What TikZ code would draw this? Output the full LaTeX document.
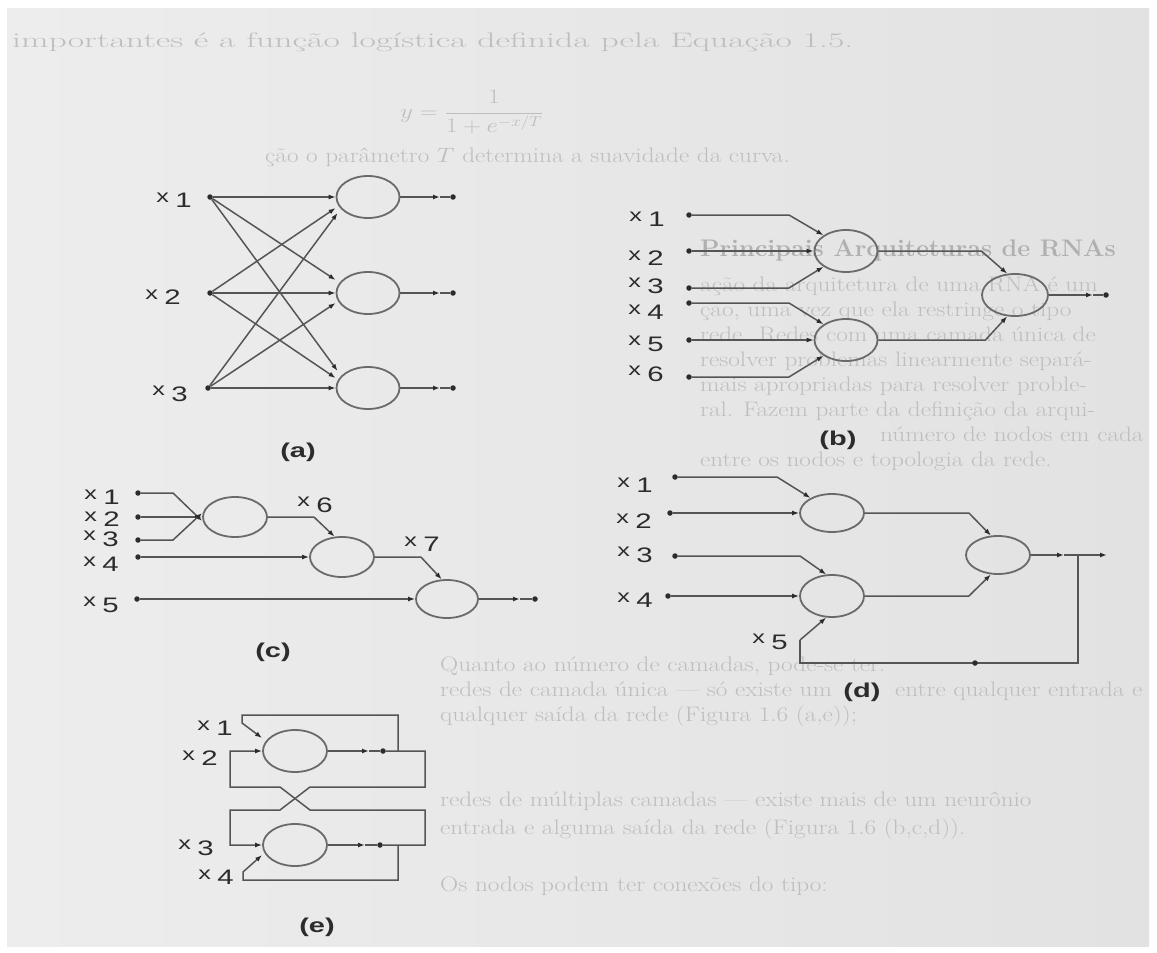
\documentclass[tikz,border=0pt]{standalone}
\usepackage{fontspec}
\usetikzlibrary{arrows.meta,shapes.geometric}
\newfontfamily\lblfont{Liberation Sans}
\definecolor{paperL}{HTML}{EDEDED}
\definecolor{paperR}{HTML}{E2E2E2}
\definecolor{ink}{HTML}{2C2C2C}
\definecolor{wirec}{HTML}{555555}
\definecolor{cellc}{HTML}{6A6A6A}
\definecolor{ghost}{HTML}{BEBEBE}
\definecolor{ghostdk}{HTML}{B0B0B0}
% input label: small raised x followed by the index digit, widened like the printed figure
\newcommand{\inlab}[1]{\scalebox{1.4}[1]{\raisebox{5.5pt}{\fontsize{18}{18}\selectfont x}\hspace{4.5pt}{\fontsize{21}{21}\selectfont #1}}}
\newcommand{\figcap}[1]{\scalebox{1.45}[1]{\fontsize{20}{20}\selectfont\bfseries #1}}
\newcommand{\pagetext}[1]{\scalebox{1.2}[1]{\fontsize{21}{25}\selectfont #1}}
\tikzset{
  cell/.style={ellipse, draw=cellc, line width=1.8pt, minimum width=63pt, minimum height=42pt, inner sep=0pt},
  wire/.style={draw=wirec, line width=1.5pt},
  arr/.style={wire, -{Latex[length=7pt,width=5pt,color=ink]}},
  term/.style={circle, fill=ink, minimum size=5.5pt, inner sep=0pt},
  lab/.style={font=\lblfont, text=ink, inner sep=0pt},
  capnode/.style={font=\lblfont, text=ink, inner sep=0pt},
  ghosttext/.style={anchor=base west, text=ghost, inner sep=0pt},
}
\begin{document}
\begin{tikzpicture}[x=1pt,y=-1pt]
\useasboundingbox (0,0) rectangle (1157,953);
\fill[white] (0,0) rectangle (1157,953);
\shade[left color=paperL, right color=paperR] (7,8) rectangle (1149,946);

% ---- running text of the page, faint behind the figure ----
\node[ghosttext] (t1) at (12,47) {\scalebox{1.7}[1]{\fontsize{21}{25}\selectfont importantes é a função logística definida pela Equação 1.5.}};
\node[ghosttext] (t2) at (400,118) {\pagetext{$y=\displaystyle\frac{1}{1+e^{-x/T}}$}};
\node[ghosttext] (t3) at (265,162) {\pagetext{ção o parâmetro $T$ determina a suavidade da curva.}};
\node[ghosttext, text=ghostdk] (t4) at (700,256) {\scalebox{1.05}[1]{\fontsize{24}{28}\selectfont\bfseries Principais Arquiteturas de RNAs}};
\node[ghosttext] (p1) at (700,291) {\pagetext{ação da arquitetura de uma RNA é um}};
\node[ghosttext] (p2) at (700,316) {\pagetext{ção, uma vez que ela restringe o tipo}};
\node[ghosttext] (p3) at (700,341) {\pagetext{rede. Redes com uma camada única de}};
\node[ghosttext] (p4) at (700,366) {\pagetext{resolver problemas linearmente separá-}};
\node[ghosttext] (p5) at (700,391) {\pagetext{mais apropriadas para resolver proble-}};
\node[ghosttext] (p6) at (700,416) {\pagetext{ral. Fazem parte da definição da arqui-}};
\node[ghosttext] (p7) at (880,441) {\pagetext{número de nodos em cada}};
\node[ghosttext] (p8) at (700,466) {\pagetext{entre os nodos e topologia da rede.}};
\node[ghosttext] (q1) at (440,671) {\pagetext{Quanto ao número de camadas, pode-se ter:}};
\node[ghosttext] (q2a) at (440,696) {\pagetext{redes de camada única --- só existe um}};
\node[ghosttext] (q2b) at (895,696) {\pagetext{entre qualquer entrada e}};
\node[ghosttext] (q3) at (440,721) {\pagetext{qualquer saída da rede (Figura 1.6 (a,e));}};
\node[ghosttext] (q4) at (440,806) {\pagetext{redes de múltiplas camadas --- existe mais de um neurônio}};
\node[ghosttext] (q5) at (440,834) {\pagetext{entrada e alguma saída da rede (Figura 1.6 (b,c,d)).}};
\node[ghosttext] (q6) at (440,891) {\pagetext{Os nodos podem ter conexões do tipo:}};

% ================= (a) single layer, fully connected =================
\node[cell] (A1) at (368,197) {};
\node[cell] (A2) at (368,293) {};
\node[cell] (A3) at (368,388) {};
\node[term] (ia1) at (210,197) {};
\node[term] (ia2) at (210,293) {};
\node[term] (ia3) at (208,388) {};
\node[lab] (la1) at (174,200) {\inlab{1}};
\node[lab] (la2) at (163,297) {\inlab{2}};
\node[lab] (la3) at (170,394) {\inlab{3}};
\draw[arr] (ia1) -- (A1.west);
\draw[arr] (ia1) -- ([yshift=13pt]A2.west);
\draw[arr] (ia1) -- ([xshift=2pt,yshift=17pt]A3.west);
\draw[arr] (ia2) -- ([yshift=-11pt]A1.west);
\draw[arr] (ia2) -- (A2.west);
\draw[arr] (ia2) -- ([yshift=10pt]A3.west);
\draw[arr] (ia3) -- ([xshift=2pt,yshift=-16pt]A1.west);
\draw[arr] (ia3) -- ([yshift=-10pt]A2.west);
\draw[arr] (ia3) -- (A3.west);
\foreach \k/\yy in {1/197,2/293,3/388}{
  \coordinate (oa\k) at (440,\yy);
  \node[term] (ta\k) at (453,\yy) {};
  \draw[arr] (A\k.east) -- (oa\k);
  \draw[wire] (oa\k) -- (ta\k);
}
\node[capnode] (ca) at (298,452) {\figcap{(a)}};

% ================= (b) two-layer feedforward =================
\node[cell] (B1) at (846,251) {};
\node[cell] (B2) at (846,340) {};
\node[cell, minimum width=66pt] (B3) at (1015,295) {};
\node[term] (ib1) at (689,215) {};
\node[term] (ib2) at (689,251) {};
\node[term] (ib3) at (689,288) {};
\node[term] (ib4) at (689,303) {};
\node[term] (ib5) at (689,340) {};
\node[term] (ib6) at (689,377) {};
\node[lab] (lb1) at (647,219) {\inlab{1}};
\node[lab] (lb2) at (646,258) {\inlab{2}};
\node[lab] (lb3) at (646,286) {\inlab{3}};
\node[lab] (lb4) at (646,312) {\inlab{4}};
\node[lab] (lb5) at (646,344) {\inlab{5}};
\node[lab] (lb6) at (646,374) {\inlab{6}};
\draw[arr] (ib1) -- ++(100,0) -- (B1.145);
\draw[arr] (ib2) -- (B1.west);
\draw[arr] (ib3) -- ++(100,0) -- (B1.215);
\draw[arr] (ib4) -- ++(100,0) -- (B2.145);
\draw[arr] (ib5) -- (B2.west);
\draw[arr] (ib6) -- ++(100,0) -- (B2.215);
\draw[arr] (B1.east) -- ++(103,0) -- (B3.110);
\draw[arr] (B2.east) -- ++(107,0) -- (B3.250);
\coordinate (ob) at (1093,295);
\node[term] (tb) at (1106,295) {};
\draw[arr] (B3.east) -- (ob);
\draw[wire] (ob) -- (tb);
\node[capnode] (cb) at (838,440) {\figcap{(b)}};

% ================= (c) cascaded nodes with extra inputs =================
\node[cell, minimum width=64pt, minimum height=40pt] (C1) at (235,517) {};
\node[cell, minimum width=64pt, minimum height=40pt] (C2) at (342,557) {};
\node[cell, minimum width=62pt, minimum height=38pt] (C3) at (447,599) {};
\node[term] (ic1) at (138,493) {};
\node[term] (ic2) at (138,517) {};
\node[term] (ic3) at (138,540) {};
\node[term] (ic4) at (138,557) {};
\node[term] (ic5) at (137,599) {};
\node[lab] (lc1) at (102,497) {\inlab{1}};
\node[lab] (lc2) at (102,519) {\inlab{2}};
\node[lab] (lc3) at (101,539) {\inlab{3}};
\node[lab] (lc4) at (101,564) {\inlab{4}};
\node[lab] (lc5) at (101,605) {\inlab{5}};
\node[lab] (lc6) at (315,505) {\inlab{6}};
\node[lab] (lc7) at (422,544) {\inlab{7}};
\draw[arr] (ic1) -- ++(35,0) -- ([yshift=-4pt]C1.west);
\draw[arr] (ic2) -- (C1.west);
\draw[arr] (ic3) -- ++(35,0) -- ([yshift=4pt]C1.west);
\draw[arr] (ic4) -- (C2.west);
\draw[arr] (ic5) -- (C3.west);
\draw[arr] (C1.east) -- ++(46,0) -- (C2.110);
\draw[arr] (C2.east) -- ++(46,0) -- (C3.105);
\coordinate (oc) at (520,599);
\node[term] (tc) at (535,599) {};
\draw[arr] (C3.east) -- (oc);
\draw[wire] (oc) -- (tc);
\node[capnode] (cc) at (273,652) {\figcap{(c)}};

% ================= (d) two layers with output feedback =================
\node[cell, minimum width=64pt, minimum height=38pt] (D1) at (832,513) {};
\node[cell, minimum width=64pt, minimum height=42pt] (D2) at (832,596) {};
\node[cell, minimum width=64pt, minimum height=38pt] (D3) at (998,555) {};
\node[term] (id1) at (675,477) {};
\node[term] (id2) at (670,513) {};
\node[term] (id3) at (675,556) {};
\node[term] (id4) at (668,596) {};
\node[lab] (ld1) at (635,485) {\inlab{1}};
\node[lab] (ld2) at (634,521) {\inlab{2}};
\node[lab] (ld3) at (635,555) {\inlab{3}};
\node[lab] (ld4) at (635,600) {\inlab{4}};
\node[lab] (ld5) at (770,642) {\inlab{5}};
\draw[arr] (id1) -- ++(102,0) -- (D1.145);
\draw[arr] (id2) -- (D1.west);
\draw[arr] (id3) -- ++(125,0) -- (D2.105);
\draw[arr] (id4) -- (D2.west);
\draw[arr] (D1.east) -- ++(104,0) -- (D3.110);
\draw[arr] (D2.east) -- ++(104,0) -- (D3.250);
\coordinate (dm) at (1064,555);
\coordinate (dj) at (1078,555);
\coordinate (dout) at (1107,555);
\coordinate (dbr) at (1078,663);
\coordinate (dbl) at (800,663);
\coordinate (dx5) at (800,640);
\draw[arr] (D3.east) -- (dm);
\draw[arr] (dm) -- (dout);
\draw[wire] (dj) -- (dbr) -- (dbl) -- (dx5);
\draw[arr] (dx5) -- (D2.255);
\node[term] (dfb) at (975,663) {};
\node[capnode] (cd) at (862,692) {\figcap{(d)}};

% ================= (e) recurrent single layer =================
\node[cell, minimum width=64pt] (E1) at (295,751) {};
\node[cell, minimum width=64pt] (E2) at (295,845) {};
\node[lab] (le1) at (215,728) {\inlab{1}};
\node[lab] (le2) at (200,758) {\inlab{2}};
\node[lab] (le3) at (196,848) {\inlab{3}};
\node[lab] (le4) at (216,877) {\inlab{4}};
\coordinate (ea) at (369,751);
\node[term] (te1) at (383,751) {};
\coordinate (eb) at (365,845);
\node[term] (te2) at (380,845) {};
\draw[arr] (E1.east) -- (ea);
\draw[wire] (ea) -- (te1);
\draw[arr] (E2.east) -- (eb);
\draw[wire] (eb) -- (te2);
% self loop of the upper node
\coordinate (ej1) at (398,751);
\draw[arr] (ej1) -- (398,715) -- (242,715) -- (242,723) -- ([yshift=13pt]E1.west);
% upper output crossing down to the lower node
\draw[arr] (te1) -- (425,751) -- (425,787) -- (310,787) -- (280,810) -- (230,810) -- (230,845) -- (E2.west);
% lower output crossing up to the upper node
\draw[arr] (te2) -- (425,845) -- (425,810) -- (310,810) -- (280,787) -- (230,787) -- (230,751) -- (E1.west);
% self loop of the lower node
\coordinate (ej2) at (398,845);
\draw[arr] (ej2) -- (398,880) -- (243,880) -- (243,872) -- ([yshift=-10pt]E2.west);
\node[capnode] (ce) at (317,927) {\figcap{(e)}};
\end{tikzpicture}
\end{document}
